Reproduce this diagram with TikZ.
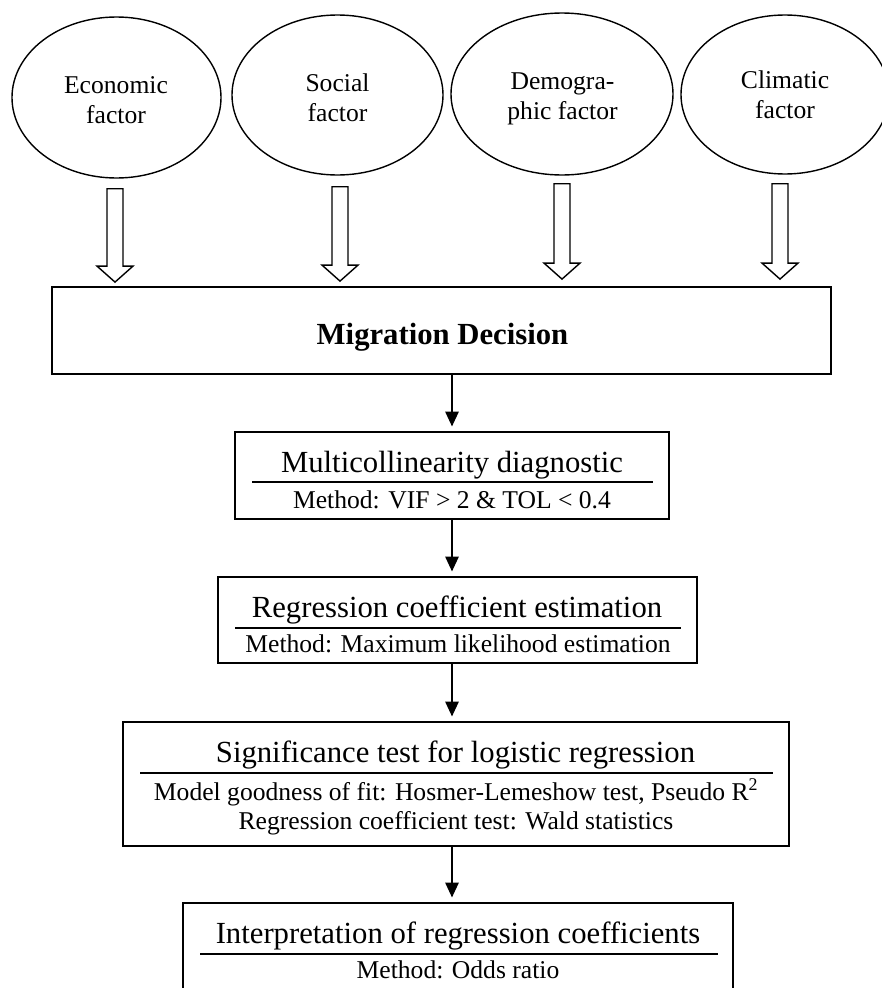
\documentclass[tikz,border=0pt]{standalone}
\usepackage{fontspec}
\setmainfont{Liberation Serif}
\usetikzlibrary{calc,arrows.meta,shapes.geometric}
\begin{document}
\begin{tikzpicture}[x=1pt,y=-1pt,
  factor/.style={draw, ellipse, line width=1.4pt, inner sep=0pt},
  ftext/.style={font=\fontsize{25.6}{30}\selectfont, align=center, anchor=base, inner sep=0pt},
  box/.style={draw, rectangle, line width=1.8pt, inner sep=0pt},
  ttl/.style={font=\fontsize{30.7}{36}\selectfont, anchor=base, inner sep=0pt},
  subt/.style={font=\fontsize{25.6}{30}\selectfont, anchor=base, inner sep=0pt},
  rule/.style={line width=1.6pt},
  flow/.style={line width=2.8pt, -{Triangle[length=15pt,width=13pt]}, shorten >=4.5pt},
  hollow/.style={draw, line width=1.4pt, line join=miter, to path={let \p1=(\tikztostart), \p2=(\tikztotarget) in
     (\x1-8pt,\y1) -- (\x1-8pt,\y2+16pt) -- (\x1-18pt,\y2+16pt) -- (\x1,\y2) -- (\x1+18pt,\y2+16pt) -- (\x1+8pt,\y2+16pt) -- (\x1+8pt,\y1) -- cycle}}
]
\useasboundingbox (0,0) rectangle (882,988);
\clip (0,0) rectangle (882,988);

% factor ellipses
\node[factor, minimum width=209pt, minimum height=161pt] (econ) at (116.5,97.5) {};
\node[factor, minimum width=211pt, minimum height=160pt] (soc) at (337.5,95) {};
\node[factor, minimum width=222pt, minimum height=162pt] (demo) at (562,94) {};
\node[factor, minimum width=208pt, minimum height=159pt] (clim) at (785,94.5) {};

\node[ftext] (econT) at (116,123) {Economic\\factor};
\node[ftext] (socT) at (337.5,121) {Social\\factor};
\node[ftext] (demoT) at (562.5,119) {Demogra-\\phic factor};
\node[ftext] (climT) at (785,118) {Climatic\\factor};

% main box
\node[box, minimum width=779pt, minimum height=87pt] (md) at (441.5,330.5) {};
\node[font=\fontsize{30.7}{36}\selectfont\bfseries, anchor=base, inner sep=0pt] (mdT) at (442.5,344) {Migration Decision};

% hollow arrows
\draw[hollow] ($(econ.south)+(-1.5,10)$) to ($(econ.south |- md.north)+(-1.5,-4)$);
\draw[hollow] ($(soc.south)+(2.5,11)$) to ($(soc.south |- md.north)+(2.5,-5)$);
\draw[hollow] ($(demo.south)+(0,8)$) to ($(demo.south |- md.north)+(0,-7)$);
\draw[hollow] ($(clim.south)+(-5,9)$) to ($(clim.south |- md.north)+(-5,-7)$);

% step boxes
\node[box, minimum width=434pt, minimum height=87pt] (multi) at (452,475.5) {};
\node[ttl] (multiT) at (452,472) {Multicollinearity diagnostic};
\draw[rule] (252,482) -- (653,482);
\node[subt] (multiS) at (452,508) {Method: VIF > 2 \& TOL < 0.4};

\node[box, minimum width=479pt, minimum height=86pt] (reg) at (457.5,620) {};
\node[ttl] (regT) at (457,617) {Regression coefficient estimation};
\draw[rule] (235,628) -- (681,628);
\node[subt] (regS) at (458,652) {Method: Maximum likelihood estimation};

\node[box, minimum width=666pt, minimum height=124pt] (sig) at (456,784) {};
\node[ttl] (sigT) at (455.5,762) {Significance test for logistic regression};
\draw[rule] (140,773) -- (773,773);
\node[subt] (sigS1) at (456,800) {Model goodness of fit: Hosmer-Lemeshow test, Pseudo R\textsuperscript{2}};
\node[subt] (sigS2) at (456,829) {Regression coefficient test: Wald statistics};

\node[box, minimum width=550pt, minimum height=97pt] (interp) at (458,951.5) {};
\node[ttl] (interpT) at (458,943) {Interpretation of regression coefficients};
\draw[rule] (200,954) -- (718,954);
\node[subt] (interpS) at (458,978) {Method: Odds ratio};

% flow arrows
\draw[flow] (md.south -| multi.north) -- (multi.north);
\draw[flow] (multi.south) -- (multi.south |- reg.north);
\draw[flow] (reg.south -| multi.south) -- (sig.north -| multi.south);
\draw[flow] (sig.south -| multi.south) -- (interp.north -| multi.south);
\end{tikzpicture}
\end{document}
